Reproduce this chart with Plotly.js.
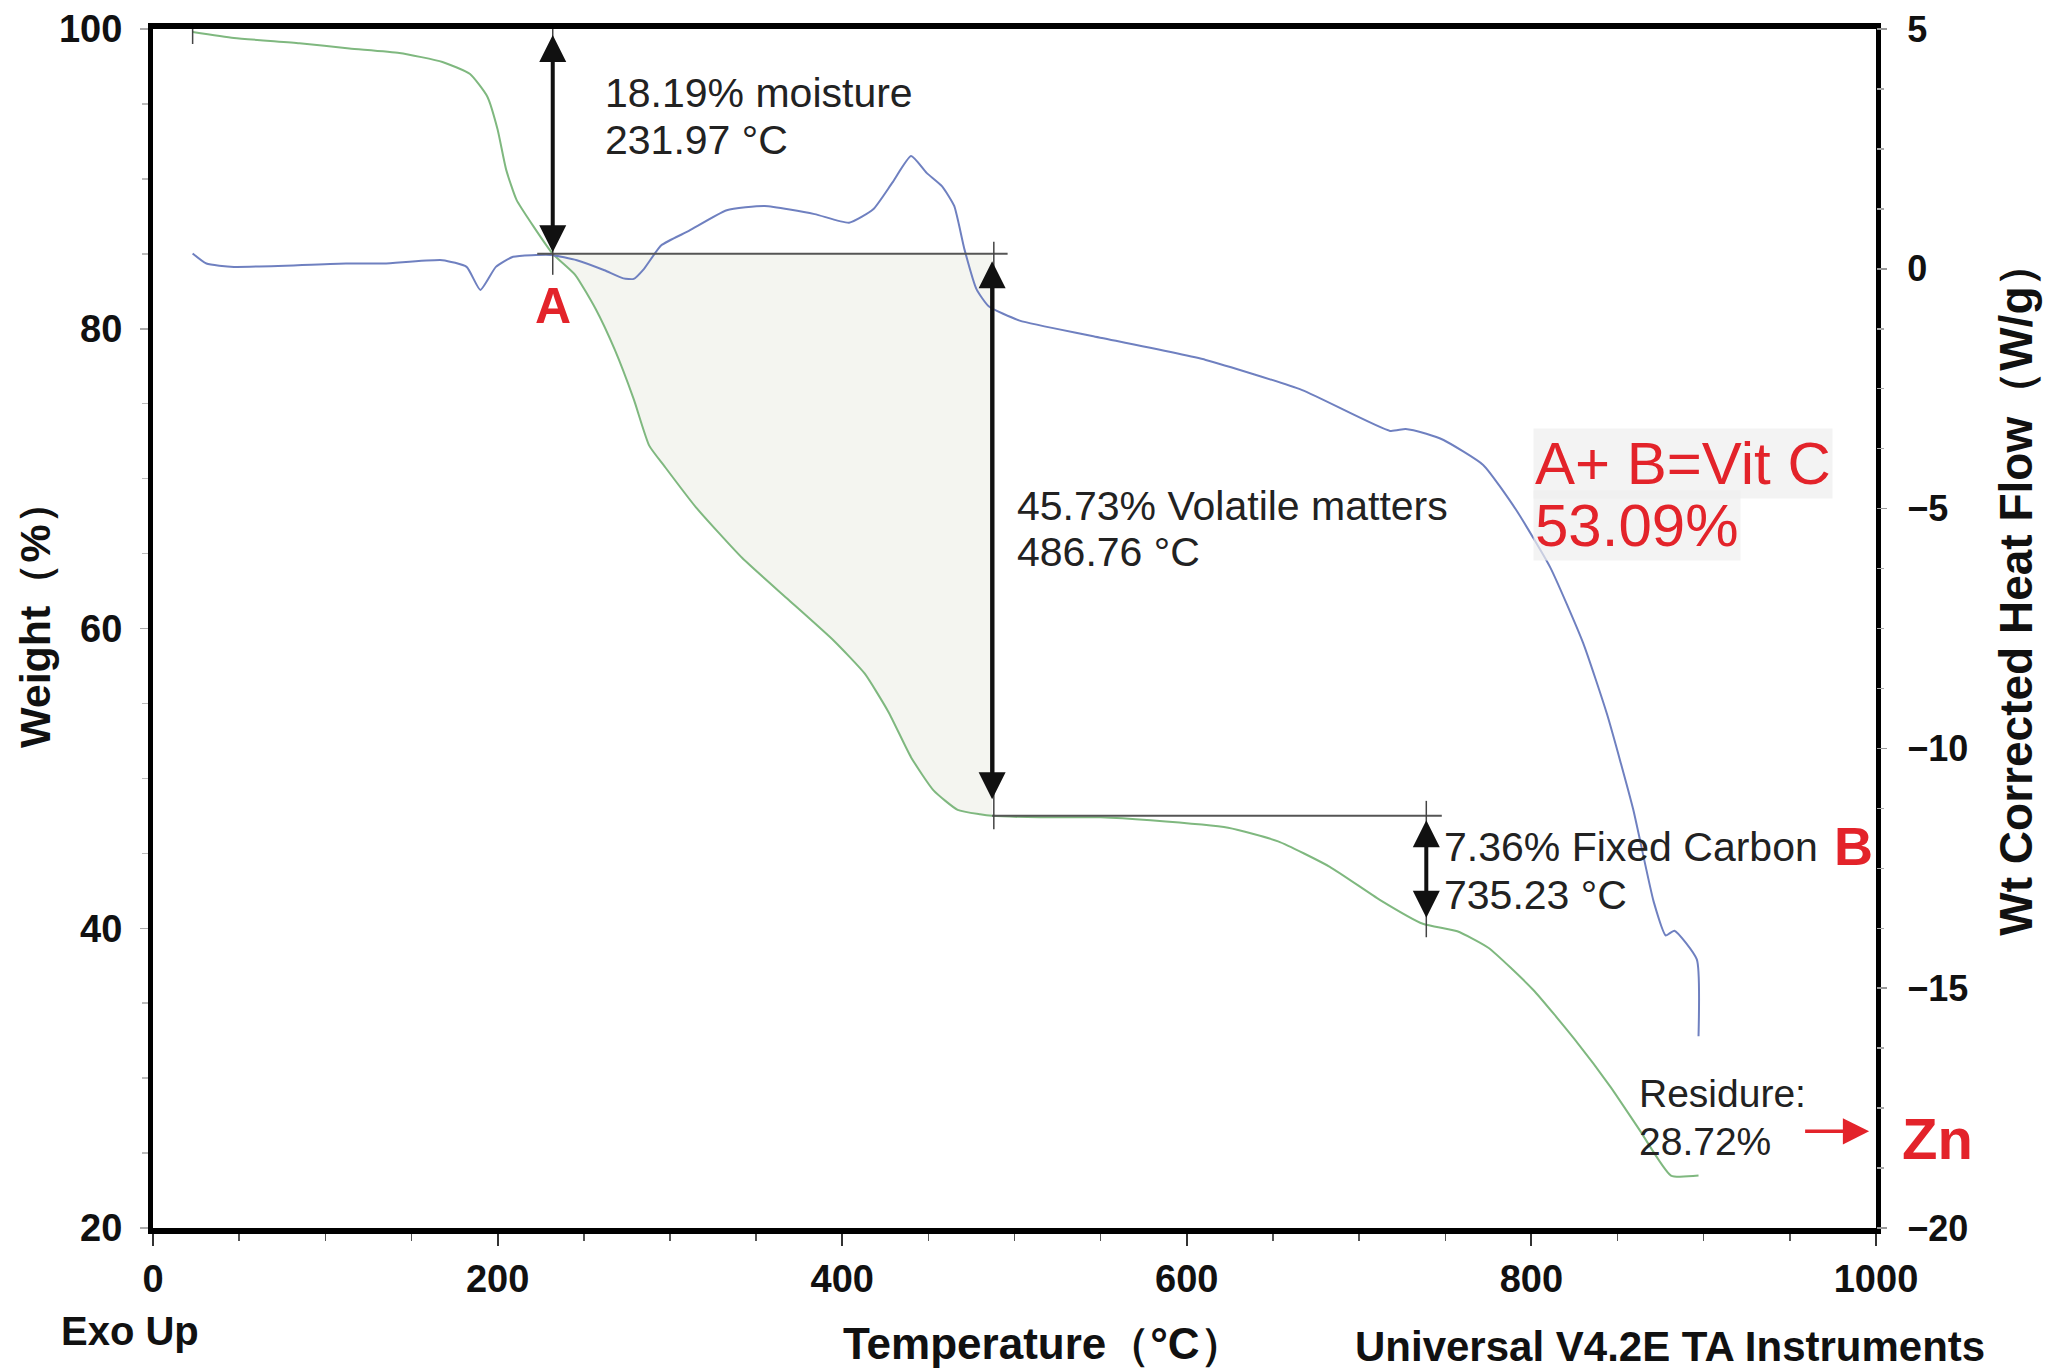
<!DOCTYPE html>
<html>
<head>
<meta charset="utf-8">
<script src="https://cdn.plot.ly/plotly-3.0.1.min.js"></script>
<style>
  html, body { margin: 0; padding: 0; background: #ffffff; }
  #chart { width: 2046px; height: 1370px; }
</style>
</head>
<body>
<div id="chart"></div>
<script>
// ---------------- DATA ----------------
// TGA weight curve (left axis, %)
const tgaTemp = [23,47,85,114,143,168,184,194,200,205,211,221,232,245,257,268,279,288,297,315,342,369,395,413,427,440,453,467,480,487,515,550,579,624,653,683,712,737,757,775,801,825,846,863,881,897];
const tgaWeight = [99.8,99.4,99.05,98.7,98.4,97.8,97.0,95.5,93.3,90.6,88.6,86.8,85.0,83.6,81.3,78.6,75.3,72.2,70.8,68.1,64.7,61.9,59.2,57.0,54.4,51.4,49.2,47.9,47.6,47.5,47.4,47.4,47.2,46.7,45.8,44.1,41.9,40.3,39.8,38.7,35.9,32.6,29.4,26.5,23.5,23.5];

// DSC heat-flow curve (right axis, W/g)
const dscTemp = [23,31,47,112,134,168,182,190,199,209,231,246,262,273,279,285,295,311,333,355,384,404,418,429,440,449,458,465,471,478,485,503,545,611,667,718,727,739,749,772,791,811,830,844,859,871,878,883,896,897];
const dscHeat = [0.32,0.11,0.04,0.11,0.11,0.18,0.04,-0.44,0.04,0.25,0.29,0.18,-0.03,-0.20,-0.21,0.0,0.49,0.79,1.22,1.31,1.14,0.96,1.24,1.79,2.35,2.0,1.72,1.31,0.40,-0.43,-0.78,-1.08,-1.40,-1.90,-2.53,-3.38,-3.34,-3.44,-3.57,-4.09,-5.02,-6.23,-7.80,-9.30,-11.26,-13.2,-13.9,-13.8,-14.4,-16.0];

// Step analysis (temperatures of the step arrows and weight levels)
const stepTemps = [232, 487, 739];              // arrow positions (°C)
const stepLevels = [85.0, 47.5];                // baseline weights at A and B (%)
const arrowSpans = [[99.7, 85.1], [84.6, 48.6], [47.3, 40.7]]; // arrow start/end weights
const baseLineSpans = [[223, 496], [487, 748]]; // extents of the horizontal baselines
const tickSpans = [[100, 83.6], [85.8, 46.6], [48.5, 39.4]];
const tickTemps = [232, 488, 739];

// Text labels
const stepLabels = [
  ["18.19% moisture", "231.97 °C"],
  ["45.73% Volatile matters", "486.76 °C"],
  ["7.36% Fixed Carbon", "735.23 °C"]
];
const stepLabelPos = [[261, 95.7, 92.6], [500, 68.2, 65.1], [748, 45.4, 42.2]];
const residueLabel = ["Residure:", "28.72%"];
const residuePos = [861.5, 29.0, 25.8];
const vitLabel = ["A+ B=Vit C", "53.09%"];
const vitPos = [801, 71.0, 66.9];

const xTicks = [0, 200, 400, 600, 800, 1000];
const yTicks = [20, 40, 60, 80, 100];
const y2Ticks = [-20, -15, -10, -5, 0, 5];

// ---------------- STYLE ----------------
const FONT = '"Liberation Sans", Arial, Helvetica, sans-serif';
const RED = '#e3232a';
const GREEN = '#7fb87f';
const BLUE = '#6f80c0';

// shaded volatile region: curve between A and B closed by the A baseline
const fillX = [], fillY = [];
for (let i = 0; i < tgaTemp.length; i++) {
  if (tgaTemp[i] >= stepTemps[0] && tgaTemp[i] <= stepTemps[1]) {
    fillX.push(tgaTemp[i]); fillY.push(tgaWeight[i]);
  }
}
fillX.push(stepTemps[1], stepTemps[0]);
fillY.push(stepLevels[0], stepLevels[0]);

const traces = [
  {
    x: fillX, y: fillY, type: 'scatter', mode: 'lines', fill: 'toself',
    fillcolor: '#f4f5f0', line: {width: 0, color: 'rgba(0,0,0,0)'},
    hoverinfo: 'skip', showlegend: false, xaxis: 'x', yaxis: 'y'
  },
  {
    x: tgaTemp, y: tgaWeight, type: 'scatter', mode: 'lines',
    line: {color: GREEN, width: 2, shape: 'spline', smoothing: 0.5},
    showlegend: false, xaxis: 'x', yaxis: 'y'
  },
  {
    x: dscTemp, y: dscHeat, type: 'scatter', mode: 'lines',
    line: {color: BLUE, width: 2, shape: 'spline', smoothing: 0.5},
    showlegend: false, xaxis: 'x', yaxis: 'y2'
  }
];

const shapes = [];
baseLineSpans.forEach((s, i) => {
  shapes.push({type: 'line', xref: 'x', yref: 'y', x0: s[0], x1: s[1], y0: stepLevels[i], y1: stepLevels[i],
    line: {color: '#555555', width: 2}});
});
tickTemps.forEach((t, i) => {
  shapes.push({type: 'line', xref: 'x', yref: 'y', x0: t, x1: t, y0: tickSpans[i][0], y1: tickSpans[i][1],
    line: {color: '#444444', width: 1.5}});
});
// start marker of the run
shapes.push({type: 'line', xref: 'x', yref: 'y', x0: tgaTemp[0], x1: tgaTemp[0], y0: 100, y1: 99.0,
  line: {color: '#444444', width: 1.5}});

const annotations = [];
// double-headed step arrows
stepTemps.forEach((t, i) => {
  annotations.push({
    xref: 'x', yref: 'y', axref: 'x', ayref: 'y',
    x: t, y: arrowSpans[i][1], ax: t, ay: arrowSpans[i][0],
    text: '', showarrow: true, arrowside: 'end+start',
    arrowhead: 2, startarrowhead: 2, arrowsize: 1.35, startarrowsize: 1.35,
    arrowwidth: 4, arrowcolor: '#111111', standoff: 0, startstandoff: 0
  });
});

function textLine(x, y, text, size, color, opts) {
  return Object.assign({
    xref: 'x', yref: 'y', x: x, y: y, text: text, showarrow: false,
    xanchor: 'left', yanchor: 'middle', align: 'left',
    font: {family: FONT, size: size, color: color}
  }, opts || {});
}

stepLabels.forEach((lines, i) => {
  annotations.push(textLine(stepLabelPos[i][0], stepLabelPos[i][1], lines[0], 41, '#222222'));
  annotations.push(textLine(stepLabelPos[i][0], stepLabelPos[i][2], lines[1], 41, '#222222'));
});
annotations.push(textLine(residuePos[0], residuePos[1], residueLabel[0], 39, '#222222'));
annotations.push(textLine(residuePos[0], residuePos[2], residueLabel[1], 39, '#222222'));

annotations.push(textLine(vitPos[0], vitPos[1], vitLabel[0], 60, RED, {bgcolor: 'rgba(238,238,238,0.7)'}));
annotations.push(textLine(vitPos[0], vitPos[2], vitLabel[1], 60, RED, {bgcolor: 'rgba(238,238,238,0.7)'}));

// red markers A, B, Zn
annotations.push(textLine(232, 81.5, 'A', 50, RED, {xanchor: 'center', font: {family: FONT, size: 50, color: RED, weight: 'bold'}}));
annotations.push(textLine(987, 45.5, 'B', 54, RED, {xanchor: 'center', font: {family: FONT, size: 54, color: RED, weight: 'bold'}}));
annotations.push({xref: 'paper', yref: 'y', x: 1.0357, y: 26.0, text: 'Zn', showarrow: false,
  xanchor: 'center', yanchor: 'middle', font: {family: FONT, size: 58, color: RED, weight: 'bold'}});
annotations.push({xref: 'x', yref: 'y', axref: 'x', ayref: 'y', x: 996, y: 26.45, ax: 958, ay: 26.45,
  text: '', showarrow: true, arrowhead: 2, arrowsize: 1.5, arrowwidth: 3.5, arrowcolor: RED, standoff: 0});

// axis titles and footers
function titleFont(size) { return {family: FONT, size: size, color: '#111111', weight: 'bold'}; }
annotations.push({xref: 'paper', yref: 'paper', x: 0.517, y: -0.0967, text: 'Temperature（°C）',
  showarrow: false, xanchor: 'center', yanchor: 'middle', font: titleFont(44)});
annotations.push({xref: 'paper', yref: 'paper', x: -0.0133, y: -0.0859, text: 'Exo Up',
  showarrow: false, xanchor: 'center', yanchor: 'middle', font: titleFont(40)});
annotations.push({xref: 'paper', yref: 'paper', x: 0.8804, y: -0.0992, text: 'Universal V4.2E TA Instruments',
  showarrow: false, xanchor: 'center', yanchor: 'middle', font: titleFont(42)});
annotations.push({xref: 'paper', yref: 'paper', x: -0.0685, y: 0.512, text: 'Weight（%）',
  showarrow: false, xanchor: 'center', yanchor: 'middle', textangle: -90, font: titleFont(43)});
annotations.push({xref: 'paper', yref: 'paper', x: 1.0812, y: 0.534, text: 'Wt Corrected Heat Flow（W/g）',
  showarrow: false, xanchor: 'center', yanchor: 'middle', textangle: -90, font: titleFont(46)});

const tickFont = {family: FONT, size: 38, color: '#111111', weight: 'bold'};

const layout = {
  width: 2046, height: 1370,
  margin: {l: 153, r: 170, t: 29, b: 142, pad: 0},
  paper_bgcolor: '#ffffff', plot_bgcolor: '#ffffff',
  showlegend: false,
  xaxis: {
    range: [0, 1000], tickvals: xTicks, ticktext: xTicks.map(String),
    ticks: 'outside', ticklen: 12, tickwidth: 2, tickcolor: '#333333',
    minor: {dtick: 50, tick0: 0, ticks: 'outside', ticklen: 7, tickwidth: 1.5, tickcolor: '#555555', showgrid: false},
    showline: true, linewidth: 6, linecolor: '#000000', mirror: true,
    showgrid: false, zeroline: false, tickfont: tickFont, ticklabelstandoff: 0
  },
  yaxis: {
    range: [20, 100], tickvals: yTicks, ticktext: yTicks.map(String),
    ticks: 'outside', ticklen: 8, tickwidth: 1.5, tickcolor: '#aaaaaa',
    minor: {dtick: 5, tick0: 0, ticks: 'outside', ticklen: 6, tickwidth: 1.5, tickcolor: '#bbbbbb', showgrid: false},
    showline: true, linewidth: 5, linecolor: '#000000', mirror: true,
    showgrid: false, zeroline: false, tickfont: tickFont, ticklabelstandoff: 10
  },
  yaxis2: {
    range: [-20, 5], overlaying: 'y', side: 'right', anchor: 'x',
    tickvals: y2Ticks,
    ticks: 'outside', ticklen: 10, tickwidth: 1.5, tickcolor: '#999999',
    minor: {dtick: 1.25, tick0: 0, ticks: 'outside', ticklen: 7, tickwidth: 1.5, tickcolor: '#aaaaaa', showgrid: false},
    showline: false, showgrid: false, zeroline: false,
    tickfont: {family: FONT, size: 36, color: '#111111', weight: 'bold'}, ticklabelstandoff: 13
  },
  shapes: shapes,
  annotations: annotations
};

Plotly.newPlot('chart', traces, layout, {staticPlot: true, displayModeBar: false});
</script>
</body>
</html>
